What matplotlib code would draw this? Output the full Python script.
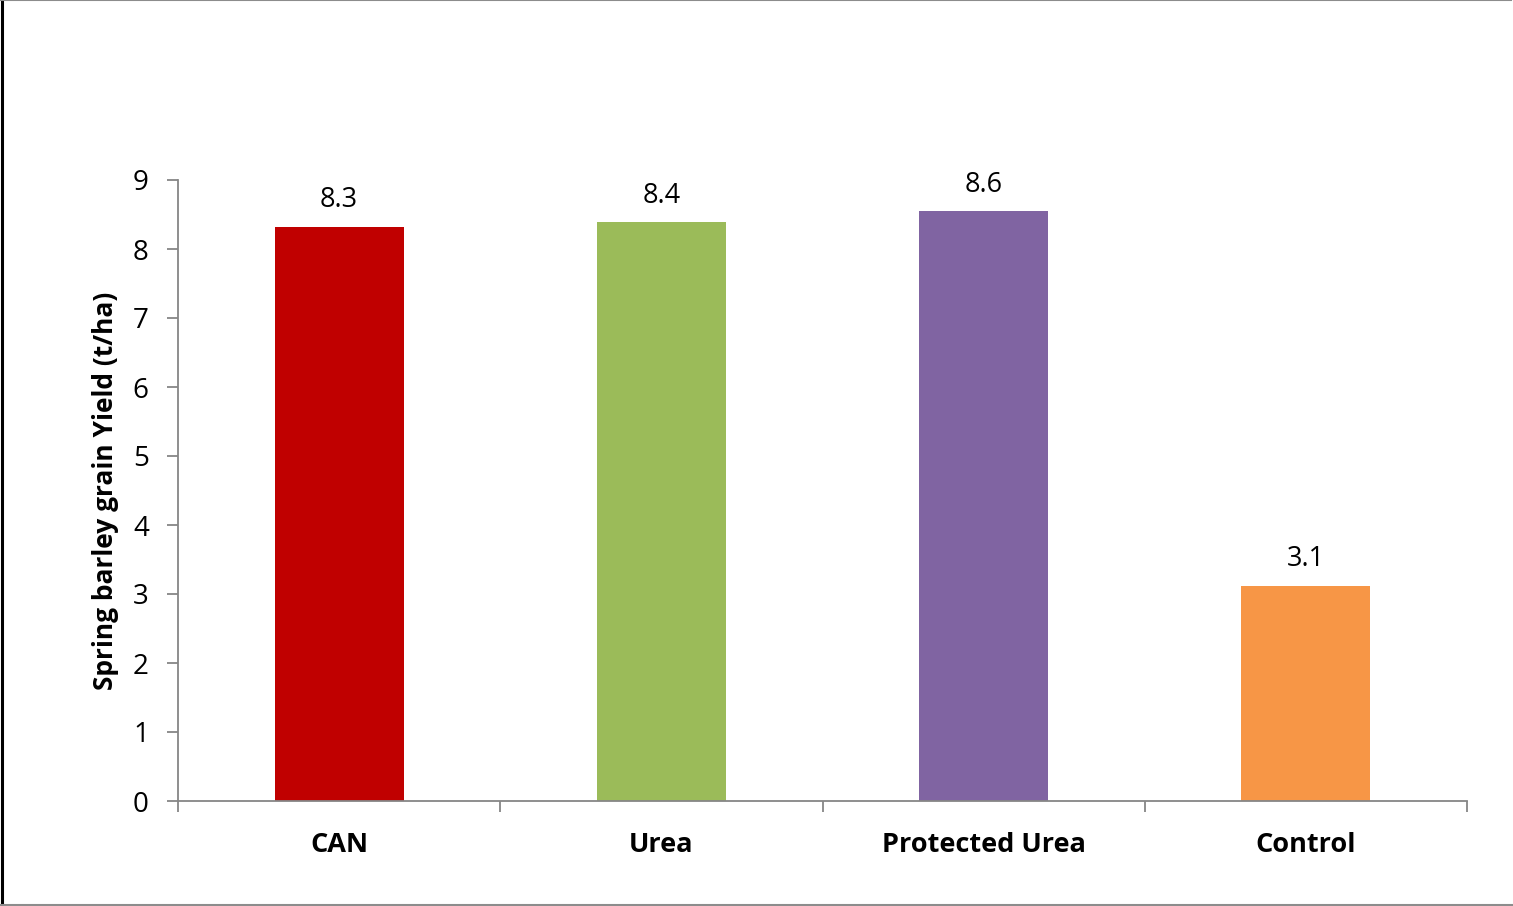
import matplotlib
matplotlib.use("Agg")
import matplotlib.pyplot as plt
from matplotlib.lines import Line2D

# Spring barley yield by nitrogen source
categories = ["CAN", "Urea", "Protected Urea", "Control"]
yields = [8.32, 8.39, 8.55, 3.12]
bar_colors = ["#C00000", "#9BBB59", "#8064A2", "#F79646"]
y_ticks = [0, 1, 2, 3, 4, 5, 6, 7, 8, 9]

plt.rcParams["font.family"] = ["Open Sans", "DejaVu Sans"]
axis_grey = "#868686"

fig = plt.figure(figsize=(15.13, 9.06), dpi=100)
ax = fig.add_axes([178 / 1513, 105 / 906, (1467 - 178) / 1513, (801 - 180) / 906])

x = list(range(len(categories)))
bars = ax.bar(x, yields, width=0.4, color=bar_colors, zorder=2)

for xi, v in zip(x, yields):
    ax.annotate(f"{v:.1f}", (xi, v), xytext=(0, 9), textcoords="offset points",
                ha="center", va="bottom", fontsize=19.5, color="black")

ax.set_xlim(-0.5, len(categories) - 0.5)
ax.set_ylim(0, 9)
ax.set_yticks(y_ticks)
ax.tick_params(axis="y", direction="out", length=8, width=1.3, color=axis_grey,
               labelsize=20, pad=13)

# category labels centred under bars, ticks at category boundaries
ax.set_xticks(x)
ax.set_xticklabels(categories, fontsize=19.5, fontweight="bold")
ax.tick_params(axis="x", which="major", length=0, pad=22.5)
ax.set_xticks([i - 0.5 for i in range(len(categories) + 1)], minor=True)
ax.tick_params(axis="x", which="minor", direction="out", length=8, width=1.3,
               color=axis_grey)

for side in ("top", "right"):
    ax.spines[side].set_visible(False)
for side in ("left", "bottom"):
    ax.spines[side].set_color(axis_grey)
    ax.spines[side].set_linewidth(1.3)

ax.set_ylabel("Spring barley grain Yield (t/ha)", fontsize=19, fontweight="bold",
              labelpad=10)

# outer frame of the chart area
fig.add_artist(Line2D([0.0015, 0.0015], [0, 1], transform=fig.transFigure,
                      color="black", linewidth=2.2))
fig.add_artist(Line2D([0, 0.999], [0.9995, 0.9995], transform=fig.transFigure,
                      color="#8c8c8c", linewidth=1.5))
fig.add_artist(Line2D([0, 1], [0.001, 0.001], transform=fig.transFigure,
                      color="#8c8c8c", linewidth=1.5))

fig.savefig("out.png", dpi=100, facecolor="white")
